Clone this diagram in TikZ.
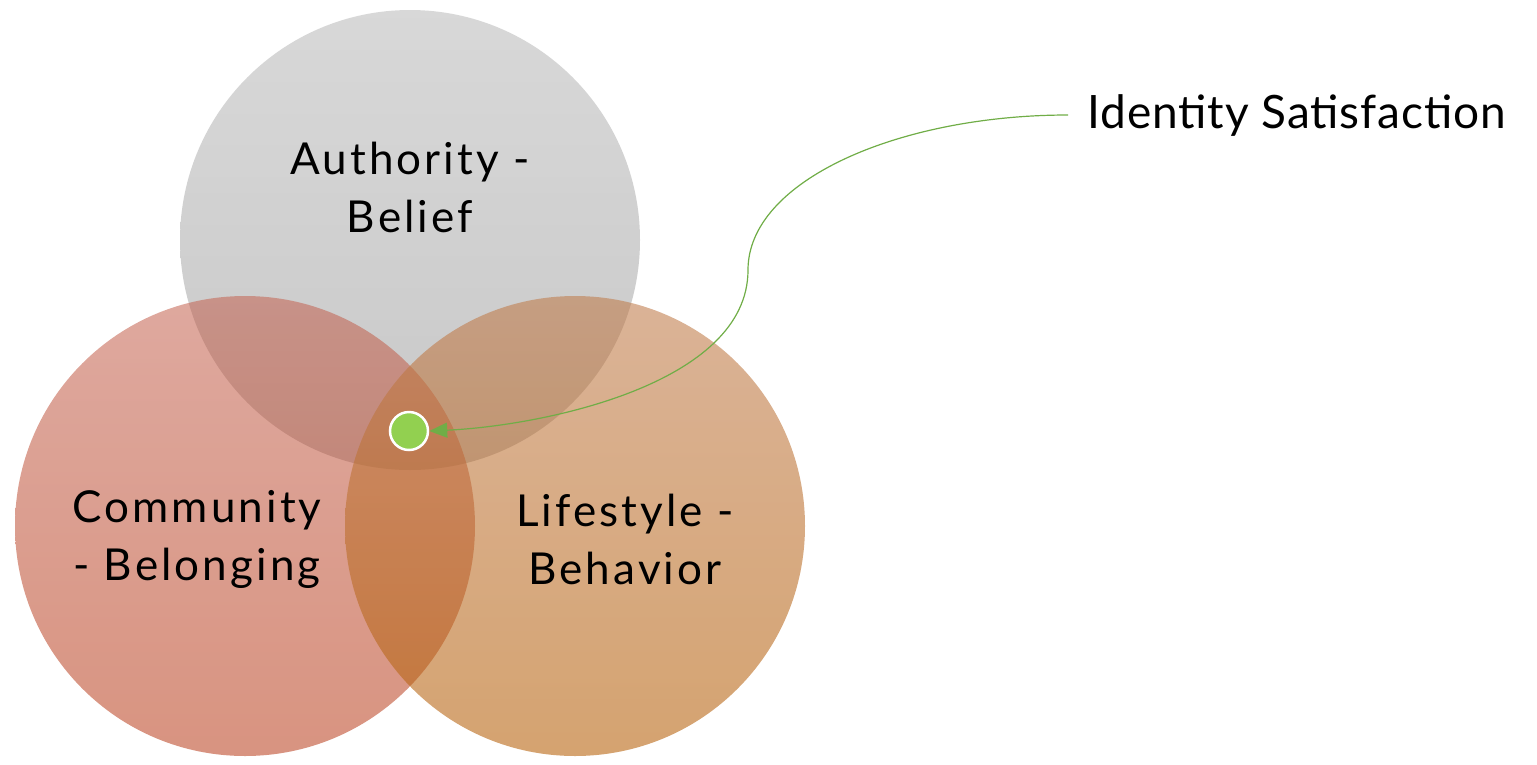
\documentclass[tikz,border=0pt]{standalone}
\usepackage{fontspec}
\setmainfont{Lato}
\newfontfamily\lblfont[LetterSpace=7]{Lato}
\newfontfamily\idfont[LetterSpace=2]{Lato}
\usetikzlibrary{arrows.meta}
\definecolor{grayT}{RGB}{184,184,184}
\definecolor{grayB}{RGB}{155,155,155}
\definecolor{redT}{RGB}{195,97,79}
\definecolor{redB}{RGB}{184,59,24}
\definecolor{tanT}{RGB}{192,124,76}
\definecolor{tanB}{RGB}{182,96,8}
\definecolor{dotgreen}{RGB}{146,208,80}
\definecolor{linegreen}{RGB}{112,173,71}
\tikzset{
  venn/.style={circle, minimum size=460pt, inner sep=0pt, fill opacity=0.55, draw=none},
  lbl/.style={align=center, text=black, font=\lblfont\fontsize{44}{58}\selectfont, inner sep=0pt},
  callout/.style={text=black, font=\idfont\fontsize{46}{55}\selectfont, inner sep=0pt, anchor=west},
  conn/.style={draw=linegreen, line width=1.2pt, -{Triangle[length=18pt,width=15pt]}},
}
\begin{document}
\begin{tikzpicture}[x=1pt,y=-1pt]
\useasboundingbox (0,0) rectangle (1537,764);
\node[venn, top color=grayT, bottom color=grayB] (auth) at (410,240) {};
\node[venn, top color=redT, bottom color=redB] (comm) at (245,526) {};
\node[venn, top color=tanT, bottom color=tanB, fill opacity=0.58] (life) at (575,526) {};
\node[lbl] (authl) at (410,187) {Authority -\\Belief};
\node[lbl] (comml) at (197,539) {Community\\- Belonging};
\node[lbl] (lifel) at (625,539) {Lifestyle -\\Behavior};
\node[circle, minimum size=38pt, inner sep=0pt, fill=dotgreen, draw=white, line width=2.5pt] (dot) at (409,431) {};
\node[callout] (idt) at (1087,115) {Identity Satisfaction};
\draw[conn] (1068,115) .. controls (900,115) and (748,180) .. (748,270)
  .. controls (748,385) and (540,426) .. (dot.east);
\end{tikzpicture}
\end{document}
